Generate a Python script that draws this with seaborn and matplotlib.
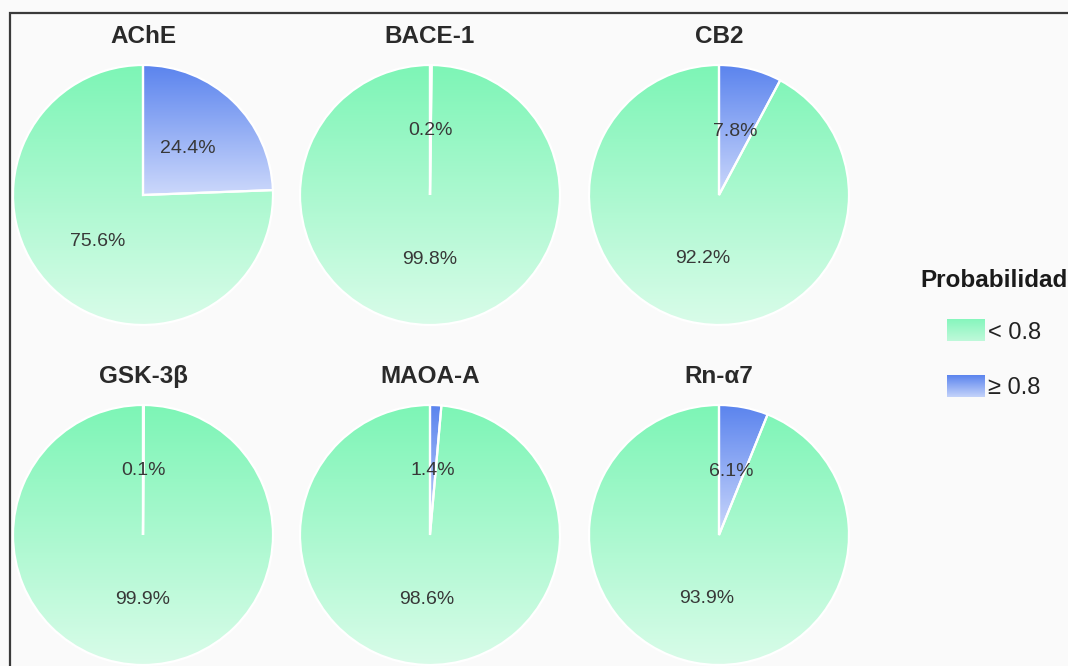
import numpy as np
import matplotlib
matplotlib.use("Agg")
import matplotlib.pyplot as plt
import seaborn as sns
from matplotlib.colors import LinearSegmentedColormap
from matplotlib.legend_handler import HandlerBase
from matplotlib.image import BboxImage
from matplotlib.transforms import Bbox, TransformedBbox
from matplotlib.patches import Rectangle

# Share of compounds per target, split by predicted probability
targets = ["AChE", "BACE-1", "CB2", "GSK-3β", "MAOA-A", "Rn-α7"]
share_high = [24.4, 0.2, 7.8, 0.1, 1.4, 6.1]    # probability >= 0.8 (%)
share_low = [75.6, 99.8, 92.2, 99.9, 98.6, 93.9]  # probability < 0.8 (%)
legend_labels = ["< 0.8", "≥ 0.8"]
legend_title = "Probabilidad"

sns.set_theme(style="white")
plt.rcParams["font.family"] = ["Liberation Sans", "DejaVu Sans"]

# vertical gradients (top colour -> bottom colour)
green_cmap = LinearSegmentedColormap.from_list("green_grad", ["#7df5b6", "#d9fce9"])
blue_cmap = LinearSegmentedColormap.from_list("blue_grad", ["#5b84ee", "#ccd8fb"])
grad = np.linspace(0, 1, 256).reshape(-1, 1)

W, H = 1068, 666
fig = plt.figure(figsize=(W / 100, H / 100), dpi=100, facecolor="#fafafa")

# outer frame, open to the right and bottom
fig.patches.append(Rectangle((10 / W, -0.1), 1.2, (H - 13) / H + 0.1,
                             transform=fig.transFigure, fill=False,
                             edgecolor="#3a3a3a", linewidth=1.6))

cx = [143, 430, 719]
cy = [195, 535]
r = 130

for i, name in enumerate(targets):
    row, col = divmod(i, 3)
    x0 = (cx[col] - r) / W
    y0 = (H - cy[row] - r) / H
    ax = fig.add_axes([x0, y0, 2 * r / W, 2 * r / H])
    ax.set_facecolor("none")
    wedges, texts, autotexts = ax.pie(
        [share_high[i], share_low[i]],
        startangle=90, counterclock=False, radius=1,
        autopct="%1.1f%%", pctdistance=0.5,
        wedgeprops=dict(edgecolor="white", linewidth=1.6, facecolor="none"),
        textprops=dict(fontsize=14, color="#383838"),
    )
    for w, cmap in zip(wedges, [blue_cmap, green_cmap]):
        ext = w.get_path().get_extents()
        im = ax.imshow(grad, cmap=cmap, extent=[ext.x0, ext.x1, ext.y0, ext.y1],
                       aspect="auto", interpolation="bilinear", zorder=0.5)
        im.set_clip_path(w)
        w.set_zorder(1)
    for t in autotexts:
        t.set_zorder(3)
    ax.text(0, 1.22, name, ha="center", va="center", fontsize=17.5,
            fontweight="bold", color="#2a2a2a")
    ax.set_xlim(-1.0, 1.0)
    ax.set_ylim(-1.0, 1.0)
    ax.set_aspect("equal")
    ax.axis("off")


class GradientHandler(HandlerBase):
    def __init__(self, cmap):
        super().__init__()
        self.cmap = cmap

    def create_artists(self, legend, orig_handle, xdescent, ydescent,
                       width, height, fontsize, trans):
        bb = TransformedBbox(Bbox.from_bounds(-xdescent, -ydescent, width, height), trans)
        img = BboxImage(bb, cmap=self.cmap, interpolation="bilinear")
        img.set_data(grad)
        return [img]


h_low = Rectangle((0, 0), 1, 1)
h_high = Rectangle((0, 0), 1, 1)
leg = fig.legend(
    [h_low, h_high], legend_labels, title=legend_title,
    loc="upper center", bbox_to_anchor=(994 / W, 1 - 248 / H),
    frameon=False, fontsize=17, handlelength=1.6, handleheight=1.0,
    handletextpad=0.15, labelspacing=1.35,
    handler_map={h_low: GradientHandler(LinearSegmentedColormap.from_list("lg", ["#86f6bd", "#bff9da"])),
                 h_high: GradientHandler(LinearSegmentedColormap.from_list("lb", ["#5b84ee", "#c4d3fa"]))},
)
leg.get_title().set_fontsize(17.5)
leg.get_title().set_fontweight("bold")
leg.get_title().set_color("#1a1a1a")
leg._legend_box.sep = 20
for t in leg.get_texts():
    t.set_color("#222222")

fig.savefig("out.png", dpi=100, facecolor=fig.get_facecolor())
